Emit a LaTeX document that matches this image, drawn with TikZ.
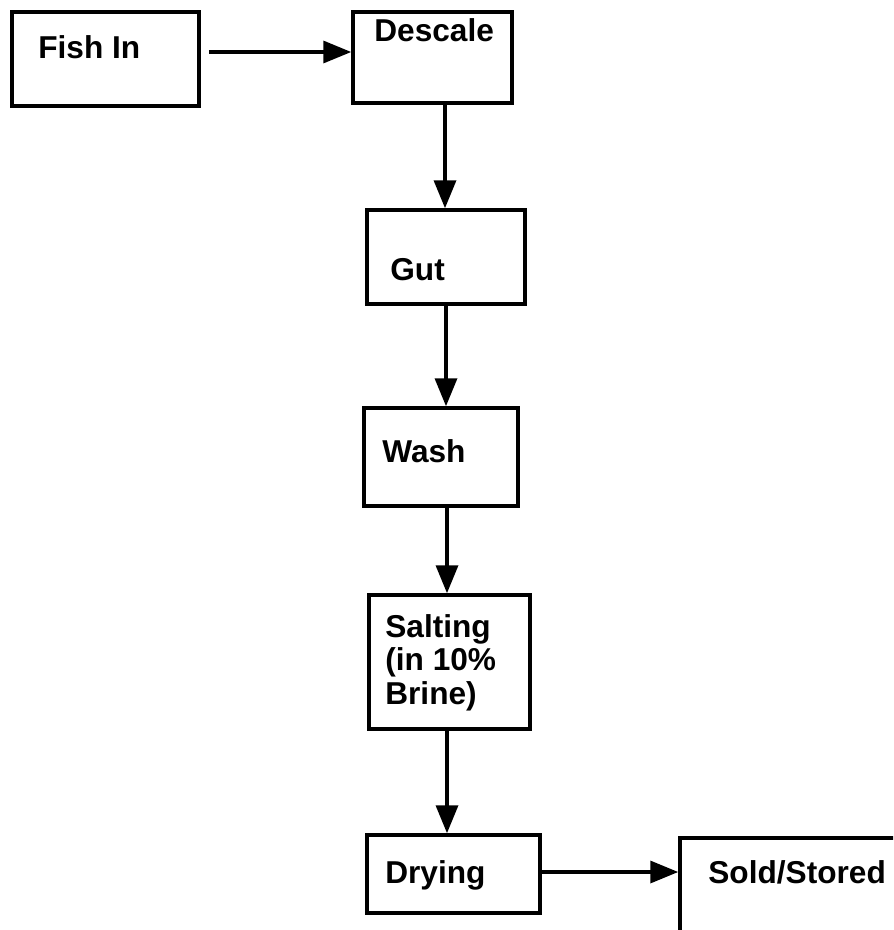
\documentclass[tikz,border=0pt]{standalone}
\usepackage{fontspec}
\setmainfont{Liberation Sans}
\usetikzlibrary{arrows.meta}
\begin{document}
\begin{tikzpicture}
[x=0.02cm,y=-0.02cm,
  boxdecorate/.style={shape=rectangle,draw,line width=2pt,inner sep=0pt},%
  textdecorate/.style={anchor=base west,inner sep=0pt,align=left,
    font=\bfseries\fontsize{18}{18.8}\selectfont},%
  linedecorate/.style={line width=2pt,-{Triangle[length=0.56cm,width=0.44cm]}}]
\clip (0,0) rectangle (893,930);
%% boxes
\foreach \nodename/\xa/\ya/\xb/\yb in {fishin/12/12/199/106, descale/353/12/512/103,
  gut/367/210/525/304, wash/364/408/518/506, salting/369/595/530/729,
  drying/367/835/540/913, sold/680/838/980/1000} {
  \node (\nodename) at ({(\xa+\xb)/2},{(\ya+\yb)/2}) [boxdecorate,
    minimum width={(\xb-\xa)*0.02cm}, minimum height={(\yb-\ya)*0.02cm}] {};
}
%% texts
\node (fishintext) at (38,58) [textdecorate] {Fish In};
\node (descaletext) at (374,41) [textdecorate] {Descale};
\node (guttext) at (390,280) [textdecorate] {Gut};
\node (washtext) at (382,462) [textdecorate] {Wash};
\node (saltingtext) at (385,704) [textdecorate] {Salting\\(in 10\%\\Brine)};
\node (dryingtext) at (385,883) [textdecorate] {Drying};
\node (soldtext) at (708,883) [textdecorate] {Sold/Stored};
%% arrows
\draw[linedecorate,shorten <=0.16cm] (fishin.east |- 0,52) -- (descale.west |- 0,52);
\foreach \startnode/\endnode/\x in {descale/gut/445, gut/wash/446,
  wash/salting/447, salting/drying/447} {
  \draw[linedecorate] (\startnode.south -| \x,0) -- (\endnode.north -| \x,0);
}
\draw[linedecorate] (drying.east |- 0,872) -- (sold.west |- 0,872);
\end{tikzpicture}
\end{document}
